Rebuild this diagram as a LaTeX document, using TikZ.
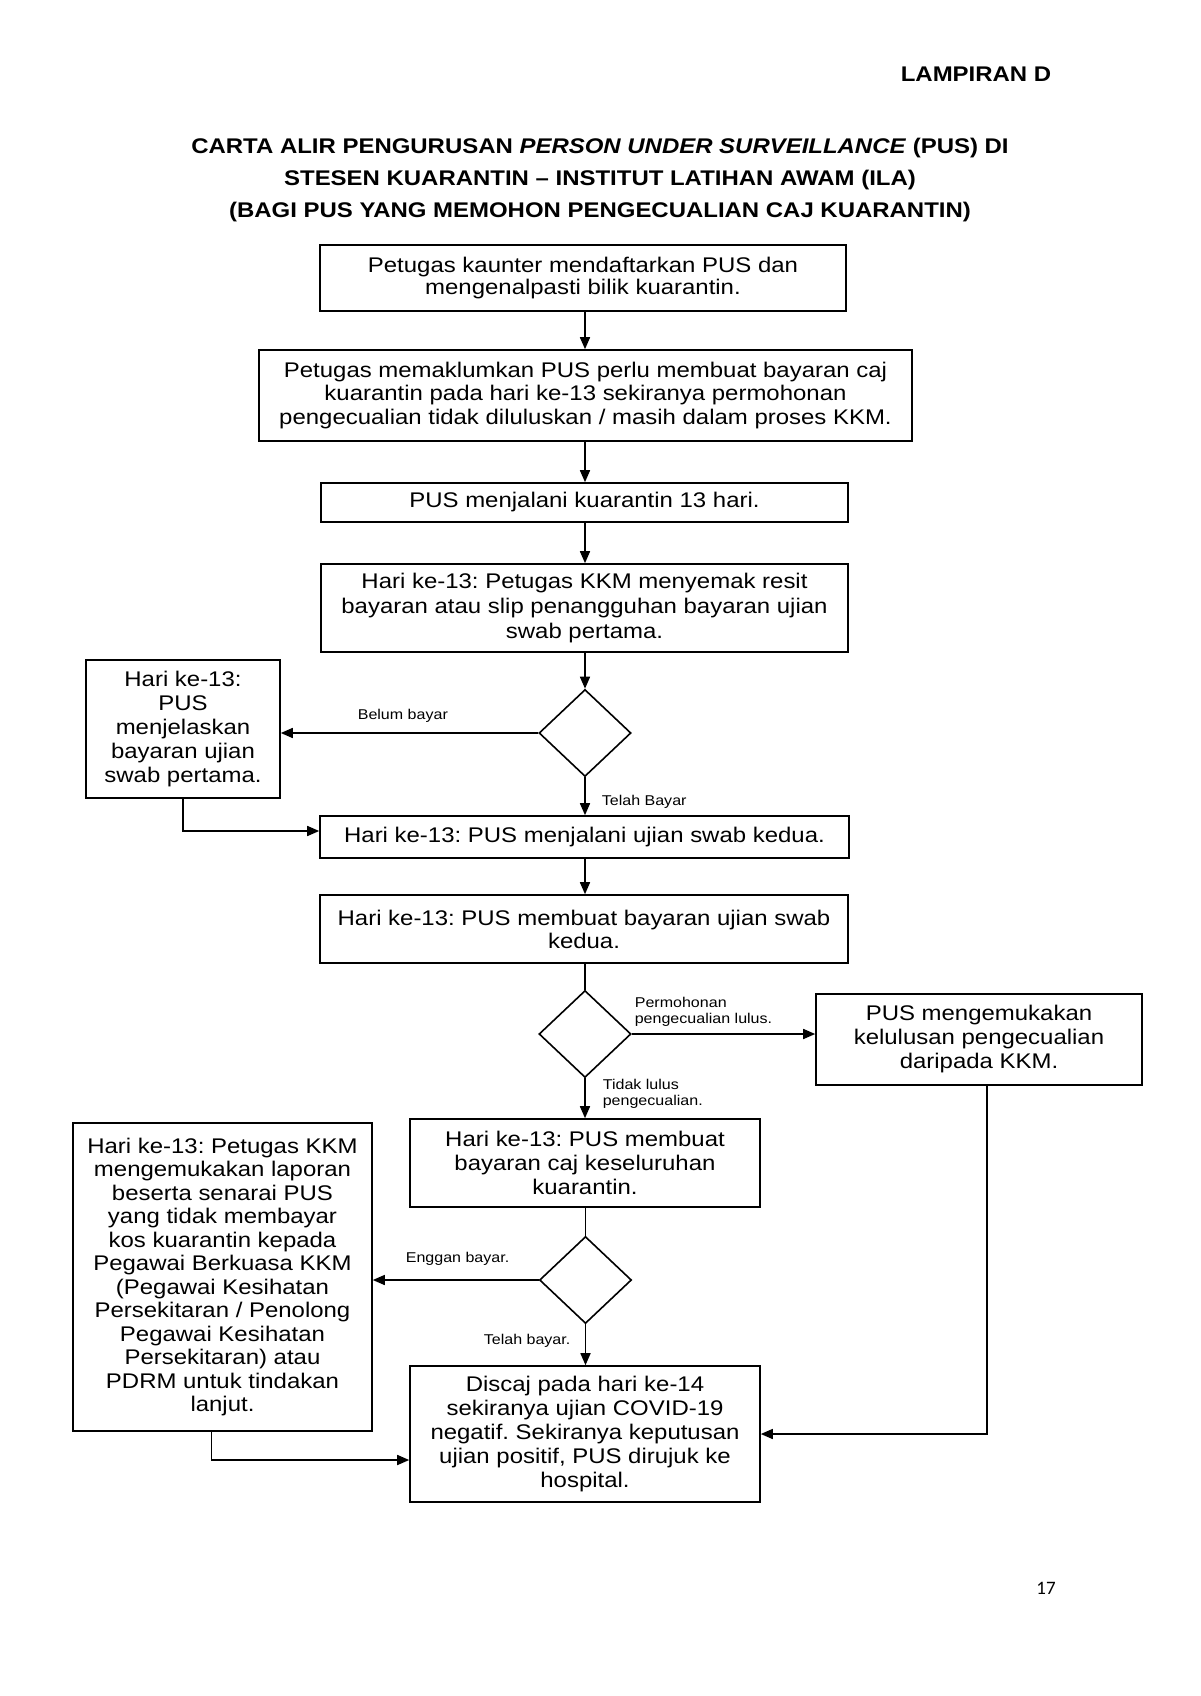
\documentclass[tikz,border=0pt]{standalone}
\usepackage{fontspec}
\setmainfont{Liberation Sans}[FakeStretch=1.13]
\newfontfamily\pagenumfont{Carlito}
\usetikzlibrary{shapes.geometric,arrows.meta,calc}
\begin{document}
\frenchspacing
\begin{tikzpicture}[x=0.5pt,y=-0.5pt,
  line width=0.8pt,
  pbox/.style={draw, align=center, inner sep=0pt, font=\fontsize{10.6pt}{#1}\selectfont\frenchspacing},
  pbox/.default=12pt,
  dec/.style={draw, diamond, minimum width=46pt, minimum height=43.5pt, inner sep=0pt},
  arr/.style={-{Triangle[length=6pt,width=5pt]}},
  lbl/.style={inner sep=0pt, font=\fontsize{7.1pt}{8pt}\selectfont, align=left},
  ttl/.style={inner sep=0pt, font=\fontsize{10.6pt}{16pt}\selectfont\bfseries},
]
\useasboundingbox[fill=white] (0,0) rectangle (1200,1696);

% titles
\node[ttl, anchor=base east] (lamp) at (1052,82) {LAMPIRAN D};
\node[ttl, anchor=base] (t1) at (600,154) {CARTA ALIR PENGURUSAN \textit{PERSON UNDER SURVEILLANCE} (PUS) DI};
\node[ttl, anchor=base] (t2) at (600,186) {STESEN KUARANTIN – INSTITUT LATIHAN AWAM (ILA)};
\node[ttl, anchor=base] (t3) at (600,218) {(BAGI PUS YANG MEMOHON PENGECUALIAN CAJ KUARANTIN)};

% boxes
\node[pbox=11.3pt, minimum width=263pt, minimum height=33pt] (b1) at (583,278)
  {Petugas kaunter mendaftarkan PUS dan\\mengenalpasti bilik kuarantin.};
\node[pbox=11.9pt, minimum width=326.5pt, minimum height=45.5pt] (b2) at (585.5,395.5)
  {Petugas memaklumkan PUS perlu membuat bayaran caj\\kuarantin pada hari ke-13 sekiranya permohonan\\pengecualian tidak diluluskan / masih dalam proses KKM.};
\node[pbox, minimum width=263.5pt, minimum height=19.5pt] (b3) at (584.5,502.5)
  {PUS menjalani kuarantin 13 hari.};
\node[pbox=12.4pt, minimum width=263.5pt, minimum height=44pt] (b4) at (584.5,608)
  {Hari ke-13: Petugas KKM menyemak resit\\bayaran atau slip penangguhan bayaran ujian\\swab pertama.};
\node[dec] (d1) at (585,733) {};
\node[pbox, minimum width=97pt, minimum height=69pt] (l1) at (183,729)
  {Hari ke-13:\\PUS\\menjelaskan\\bayaran ujian\\swab pertama.};
\node[pbox, minimum width=264.5pt, minimum height=21pt] (b5) at (584.5,837)
  {Hari ke-13: PUS menjalani ujian swab kedua.};
\node[pbox=11.5pt, minimum width=264pt, minimum height=34pt] (b6) at (584,929)
  {Hari ke-13: PUS membuat bayaran ujian swab\\kedua.};
\node[dec] (d2) at (585,1034) {};
\node[pbox, minimum width=163pt, minimum height=45.5pt] (r1) at (979,1039.5)
  {PUS mengemukakan\\kelulusan pengecualian\\daripada KKM.};
\node[pbox, minimum width=175pt, minimum height=44pt] (b7) at (585,1163)
  {Hari ke-13: PUS membuat\\bayaran caj keseluruhan\\kuarantin.};
\node[dec] (d3) at (585.5,1280) {};
\node[pbox=11.75pt, minimum width=149.5pt, minimum height=154pt] (bl) at (222.5,1277)
  {Hari ke-13: Petugas KKM\\mengemukakan laporan\\beserta senarai PUS\\yang tidak membayar\\kos kuarantin kepada\\Pegawai Berkuasa KKM\\(Pegawai Kesihatan\\Persekitaran / Penolong\\Pegawai Kesihatan\\Persekitaran) atau\\PDRM untuk tindakan\\lanjut.};
\node[pbox, minimum width=175pt, minimum height=68pt] (b8) at (585,1434)
  {Discaj pada hari ke-14\\sekiranya ujian COVID-19\\negatif. Sekiranya keputusan\\ujian positif, PUS dirujuk ke\\hospital.};

% labels
\node[lbl, anchor=base west] (lb1) at (357,719) {Belum bayar};
\node[lbl, anchor=base west] (lb2) at (601,805) {Telah Bayar};
\node[lbl, anchor=north west] (lb3) at (634,996) {Permohonan\\pengecualian lulus.};
\node[lbl, anchor=north west] (lb4) at (602,1078) {Tidak lulus\\pengecualian.};
\node[lbl, anchor=base west] (lb5) at (405,1262) {Enggan bayar.};
\node[lbl, anchor=base west] (lb6) at (483,1344) {Telah bayar.};

\node[inner sep=0pt, anchor=base, font={\pagenumfont\fontsize{9.5pt}{11pt}\selectfont}] (pg) at (1046,1594) {17};

% connectors
\draw[arr] (b1.south -| d1.north) -- (b2.north -| d1.north);
\draw[arr] (b2.south -| d1.north) -- (b3.north -| d1.north);
\draw[arr] (b3.south -| d1.north) -- (b4.north -| d1.north);
\draw[arr] (b4.south -| d1.north) -- (d1.north);
\draw[arr] (d1.west) -- (l1.east |- d1.west);
\draw[arr] (d1.south) -- (b5.north -| d1.south);
\draw[arr] (l1.south) |- ($(b5.west)+(0,-6)$);
\draw[arr] (b5.south -| d1.south) -- (b6.north -| d1.south);
\draw (b6.south -| d2.north) -- (d2.north);
\draw[arr] (d2.east) -- (r1.west |- d2.east);
\draw[arr] (d2.south) -- (b7.north -| d2.south);
\draw (b7.south -| d3.north) -- (d3.north);
\draw[arr] (d3.west) -- (bl.east |- d3.west);
\draw[arr] (d3.south) -- (b8.north -| d3.south);
\draw[arr] ($(r1.south)+(8,0)$) |- (b8.east);
\draw[arr] ($(bl.south)+(-11,0)$) |- ($(b8.west)+(0,26)$);
\end{tikzpicture}
\end{document}
